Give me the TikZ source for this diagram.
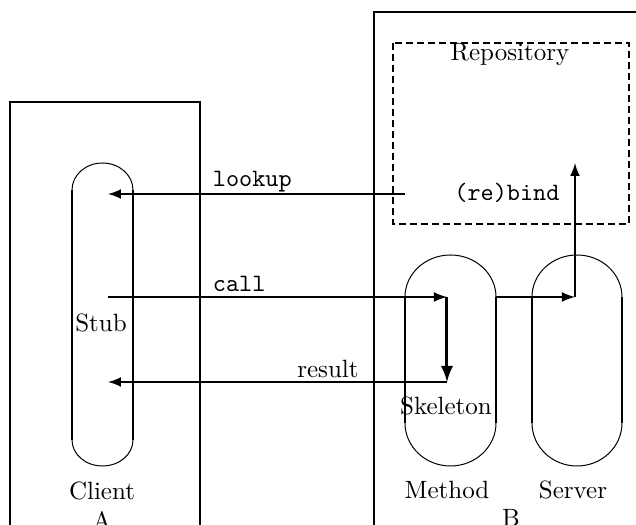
\documentclass[tikz,border=0pt]{standalone}
\usepackage{tikz}
\usetikzlibrary{calc, positioning}

\begin{document}
\begin{tikzpicture}[>=latex, x=0.4pt, y=-0.4pt, line width=0.8pt,
    lbl/.style={inner sep=0pt, anchor=base},
    side/.style={line width=0.8pt},
    roundend/.style={line width=0.4pt}]
    \useasboundingbox (0,0) rectangle (636,525);
    \clip (0,0) rectangle (636,525);

    % 1. Two hosts A and B
    \draw (10,540) |- (200,102) -- (200,540);
    \draw (374,540) |- (650,12);

    % 2. Repository (dashed)
    \draw[dashed, dash pattern=on 2.8pt off 1.6pt] (393,43) rectangle (629,224);

    % 3. Capsules: Stub, Skeleton/Method, Server
    \foreach \l/\r/\t/\u/\d/\b in {72/133/163/190/440/466,
                                   405/496/255/297/423/466,
                                   532/622/255/297/423/466} {
        \draw[side] (\l,\u) -- (\l,\d) (\r,\u) -- (\r,\d);
        \draw[roundend] (\l,\u) arc[start angle=180, end angle=360,
            x radius={(\r-\l)/2}, y radius={\u-\t}];
        \draw[roundend] (\l,\d) arc[start angle=180, end angle=0,
            x radius={(\r-\l)/2}, y radius={\b-\d}];
    }

    % 4. Texts
    \node[lbl] (stub) at (101,332) {Stub};
    \node[lbl] (skel) at (446,415) {Skeleton};
    \node[lbl] (repo) at (510,61) {Repository};
    \node[lbl] (rebind) at (507,201) {\texttt{(re)bind}};
    \node[lbl, anchor=base west] (lookup) at (212,187) {\texttt{lookup}};
    \node[lbl, anchor=base west] (call) at (212,292) {\texttt{call}};
    \node[lbl] (result) at (328,378) {result};
    \node[lbl] (client) at (102,500) {Client};
    \node[lbl] (hostA) at (102,530) {A};
    \node[lbl] (method) at (447,499) {Method};
    \node[lbl] (server) at (573,499) {Server};
    \node[lbl] (hostB) at (511,527) {B};

    % 5. End points of the calls
    \coordinate (lookupOut) at (405,194);
    \coordinate (lookupIn) at (108,194);
    \coordinate (callOut) at (108,297);
    \coordinate (skelIn) at (447,297);
    \coordinate (skelOut) at (447,382);
    \coordinate (resultIn) at (108,382);
    \coordinate (methOut) at (496,297);
    \coordinate (servIn) at (575,297);
    \coordinate (servUp) at (575,163);

    % 6. Arrows
    \draw[->] (lookupOut) -- (lookupIn);
    \draw[->] (callOut) -- (skelIn);
    \draw[->, line width=1.2pt] (skelIn) -- (skelOut);
    \draw[->] (skelOut) -- (resultIn);
    \draw[->] (methOut) -- (servIn);
    \draw[->] (servIn) -- (servUp);
\end{tikzpicture}
\end{document}
